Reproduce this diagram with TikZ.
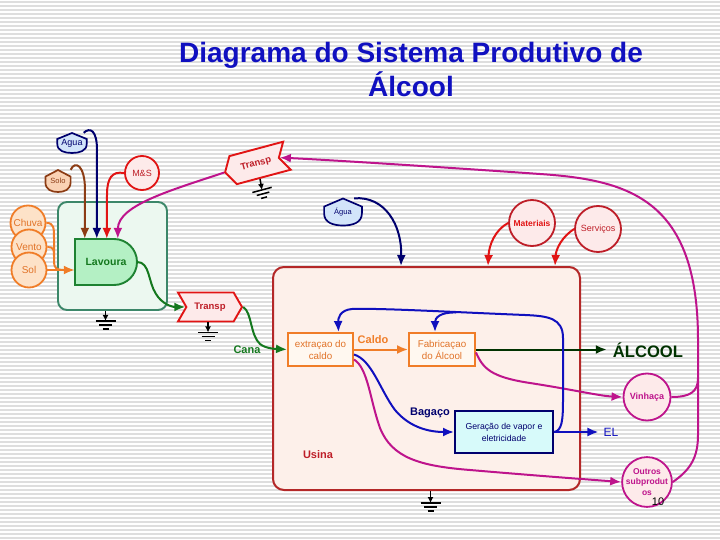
\documentclass[tikz,border=0pt]{standalone}
\usepackage{fontspec}
\setmainfont{Liberation Sans}
\usetikzlibrary{shapes.symbols,arrows.meta,calc}
\definecolor{titleblue}{RGB}{16,16,192}
\definecolor{navy}{RGB}{0,0,110}
\definecolor{fbblue}{RGB}{16,16,190}
\definecolor{redc}{RGB}{225,20,20}
\definecolor{darkred}{RGB}{190,30,40}
\definecolor{pinkfill}{RGB}{253,234,234}
\definecolor{mag}{RGB}{190,20,140}
\definecolor{orangec}{RGB}{240,125,40}
\definecolor{orangetxt}{RGB}{225,115,40}
\definecolor{orangefill}{RGB}{253,226,200}
\definecolor{brownc}{RGB}{140,60,20}
\definecolor{solofill}{RGB}{250,210,180}
\definecolor{greenc}{RGB}{20,120,30}
\definecolor{lavfill}{RGB}{180,240,196}
\definecolor{lavborder}{RGB}{30,130,50}
\definecolor{boxgreen}{RGB}{60,135,105}
\definecolor{boxgreenfill}{RGB}{236,248,240}
\definecolor{dkgreen}{RGB}{0,50,0}
\definecolor{usinafill}{RGB}{253,240,234}
\definecolor{usinaborder}{RGB}{180,40,40}
\definecolor{aguafill}{RGB}{210,228,250}
\definecolor{gerfill}{RGB}{215,250,250}
\definecolor{extfill}{RGB}{255,248,240}
\definecolor{stripe}{RGB}{222,222,222}
\newcommand\fsz[2]{\fontsize{#1}{#2}\selectfont}
\newcommand\shieldshape[5]{%
 \begin{scope}[shift={#1},xscale=#2,yscale=#3]
  \draw[draw=#4, fill=#5, line width=1.7pt] (0,-10) -- (14,-4) -- (14,1) .. controls (14,8) and (7,10) .. (0,10) .. controls (-7,10) and (-14,8) .. (-14,1) -- (-14,-4) -- cycle;
 \end{scope}}
\begin{document}
\begin{tikzpicture}[x=1pt,y=-1pt,
  conn/.style={line width=2pt},
  arr/.style={-{Latex[length=11pt,width=9pt]}},
  circ/.style={circle, draw, line width=1.8pt, inner sep=0pt, minimum size=#1},
  gstem/.style={line width=1.5pt, -{Latex[length=6pt,width=6pt]}},
  gnd/.pic={\draw[line width=1.5pt] (-10,0) -- (10,0) (-6.5,4) -- (6.5,4) (-3,8) -- (3,8);},
  chev/.style={signal, draw=redc, fill=pinkfill, line width=1.9pt, signal pointer angle=120,
    minimum width=64pt, minimum height=29pt, inner sep=0pt, text=darkred, font=\bfseries\fsz{9.5}{11}},
  procbox/.style={draw, line width=1.9pt, inner sep=0pt, align=center},
  lbl/.style={inner sep=0pt}
]
\useasboundingbox (0,0) rectangle (720,540);
\fill[white] (0,0) rectangle (720,540);
\foreach \k in {0,...,134} \draw[stripe, line width=1.3pt] (0,{\k*4+2}) -- (720,{\k*4+2});

% title
\node[lbl, align=center, text=titleblue, font=\bfseries\fsz{28}{34}] (title) at (411,69) {Diagrama do Sistema Produtivo de\\Álcool};

% green system box
\node[draw=boxgreen, fill=boxgreenfill, line width=1.9pt, rounded corners=9pt, minimum width=109pt, minimum height=108pt, inner sep=0pt] (lavbox) at (112.5,256) {};

% Lavoura D shape
\path[draw=lavborder, fill=lavfill, line width=1.9pt] (75,239) -- (114,239) arc[start angle=-90, end angle=90, radius=23] -- (75,285) -- cycle;
\node[lbl, minimum width=62pt, minimum height=46pt, text=greenc, font=\bfseries\fsz{10.5}{12}] (lav) at (106,262) {Lavoura};

% sources left
\node[circ=35pt, draw=orangec, fill=orangefill, text=orangetxt, font=\fsz{10}{12}] (chuva) at (28,223) {Chuva};
\node[circ=35pt, draw=orangec, fill=orangefill, text=orangetxt, font=\fsz{10}{12}] (vento) at (29,247) {Vento};
\node[circ=35pt, draw=orangec, fill=orangefill, text=orangetxt, font=\fsz{10}{12}] (sol) at (29,270) {Sol};

\shieldshape{(58,181)}{0.9}{1.1}{brownc}{solofill}
\node[lbl, minimum width=25pt, minimum height=22pt, text=brownc, font=\fsz{7.5}{9}] (solo) at (58,181) {Solo};
\shieldshape{(72,143)}{1.05}{1.0}{navy}{aguafill}
\node[lbl, minimum width=29pt, minimum height=20pt, text=navy, font=\fsz{9}{10}] (agua1) at (72,143) {Agua};
\node[circ=34pt, draw=redc, fill=pinkfill, text=darkred, font=\fsz{9}{11}] (ms) at (142,173) {M\&S};

% transports
\node[chev, signal to=east, signal from=west] (tr1) at (210,307) {Transp};
\node[chev, signal to=west, signal from=east, rotate=15] (tr2) at (256,164) {Transp};

% second agua, materials, services
\shieldshape{(343,212)}{1.35}{1.35}{navy}{aguafill}
\node[lbl, minimum width=38pt, minimum height=27pt, text=navy, font=\fsz{7.5}{9}] (agua2) at (343,212) {Água};
\node[circ=46pt, draw=darkred, fill=pinkfill, text=redc, font=\bfseries\fsz{8.5}{10}] (mat) at (532,223) {Materiais};
\node[circ=46pt, draw=darkred, fill=pinkfill, text=darkred, font=\fsz{9}{10}] (serv) at (598,229) {Serviços};

% usina
\node[draw=usinaborder, fill=usinafill, line width=2pt, rounded corners=11pt, minimum width=307pt, minimum height=223pt, inner sep=0pt] (usina) at (426.5,378.5) {};
\node[lbl, text=darkred, font=\bfseries\fsz{11}{13}] (usl) at (318,455) {Usina};

\node[procbox, draw=orangec, fill=extfill, text=orangetxt, font=\fsz{9.8}{12}, minimum width=65pt, minimum height=33pt] (ext) at (320.5,349.5) {extraçao do\\caldo};
\node[procbox, draw=orangec, fill=extfill, text=orangetxt, font=\fsz{9.8}{12}, minimum width=66pt, minimum height=33pt] (fab) at (442,349.5) {Fabricaçao\\do Álcool};
\node[procbox, draw=navy, fill=gerfill, text=navy, font=\fsz{8.7}{12}, line width=2pt, minimum width=98pt, minimum height=42pt] (ger) at (504,432) {Geração de vapor e\\eletricidade};

\node[lbl, text=orangec, font=\bfseries\fsz{11}{13}] (caldo) at (373,340) {Caldo};
\node[lbl, text=navy, font=\bfseries\fsz{11}{13}] (bag) at (430,413) {Bagaço};
\node[lbl, text=greenc, font=\bfseries\fsz{11}{13}] (cana) at (247,350) {Cana};
\node[lbl, text=dkgreen, font=\bfseries\fsz{16.6}{18}] (alc) at (648,350) {ÁLCOOL};
\node[lbl, text=fbblue, font=\fsz{12}{14}] (el) at (611,432) {EL};

% outputs
\node[circ=47pt, draw=mag, fill=pinkfill, text=mag, font=\bfseries\fsz{9}{10}] (vinh) at (647,397) {Vinhaça};
\node[circ=47pt, draw=mag, fill=pinkfill, text=mag, font=\bfseries\fsz{8.5}{10.5}, align=center] (outros) at (647,482) {Outros\\subprodut\\os};
\node[lbl, font=\fsz{11}{13}] (pgno) at (658,502) {10};

% connectors: lavoura inputs
\draw[conn, orangec] (chuva.east) .. controls (54,223) and (54,228) .. (54,238) -- (54,262) .. controls (54,268) and (57,270) .. (63,270);
\draw[conn, orangec] (vento.east) .. controls (54,247) and (54,250) .. (54,256);
\draw[conn, orangec, arr] (sol.east) -- (sol.east -| lav.west);
\draw[conn, brownc, arr] (solo.north east) .. controls (75,160) and (85,165) .. (85,190) -- ($(lav.north west)+(10,0)$);
\draw[conn, navy, arr] ([xshift=-3pt]agua1.north east) .. controls (90,127) and (97,130) .. (97,150) -- ($(lav.north west)+(22,0)$);
\draw[conn, redc, arr] (ms.west) .. controls (112,171) and (107,178) .. (107,195) -- ($(lav.north west)+(32,0)$);
\draw[conn, mag, arr] (tr2.west) .. controls (172,190) and (118,205) .. ($(lav.north west)+(43,0)$);

% cane flow
\draw[conn, greenc, arr] (lav.east) .. controls (150,262) and (148,282) .. (156,294) .. controls (162,304) and (172,307) .. (tr1.west);
\draw[conn, greenc, arr] (tr1.east) .. controls (252,312) and (250,335) .. (260,344) .. controls (266,349) and (278,349) .. (ext.west);

% usina inputs
\draw[conn, navy, arr] ([xshift=-8pt]agua2.north east) .. controls (385,196) and (402,225) .. ($(usina.north west)+(129,0)$);
\draw[conn, redc, arr] (mat.west) .. controls (495,230) and (489,245) .. ($(usina.north west)+(216,0)$);
\draw[conn, redc, arr] (serv.west) .. controls (563,236) and (556,248) .. ($(usina.north west)+(283,0)$);

% inside usina
\draw[conn, orangec, arr] (ext.east) -- (fab.west);
\draw[conn, dkgreen, arr] (fab.east) -- ([xshift=-6pt]fab.east -| alc.west);
\draw[conn, fbblue, arr] (ger.east) -- ([xshift=-5pt]ger.east -| el.west);
\draw[conn, mag, arr] ([yshift=-3pt]fab.east) .. controls (483,368) and (490,377) .. (530,383) .. controls (575,390) and (600,396) .. (vinh.west);
\draw[conn, mag, arr] ([yshift=-10pt]ext.east) .. controls (368,368) and (370,400) .. (380,428) .. controls (392,458) and (420,466) .. (470,470) .. controls (540,476) and (595,480) .. (outros.west);
\draw[conn, fbblue, arr] ([yshift=-5pt]ext.east) .. controls (372,360) and (380,390) .. (395,410) .. controls (410,428) and (430,432) .. (ger.west);
\draw[conn, fbblue, arr] (ger.east) .. controls (562,431) and (563,420) .. (563,400) -- (563,338) .. controls (563,318) and (548,316) .. (525,315) .. controls (450,312) and (380,308) .. (352,309) .. controls (340,310) and (338,318) .. ($(ext.north)+(18,0)$);
\coordinate (fbj) at (456,312.5);
\draw[conn, fbblue, arr] (fbj) .. controls (440,312) and (435,318) .. ($(fab.north)+(-7,0)$);

% by-products back to transport
\draw[conn, mag, arr] (outros.east) .. controls (690,470) and (698,458) .. (698,435) -- (698,340) .. controls (698,200) and (630,180) .. (540,174) .. controls (440,167) and (330,160) .. (tr2.east);
\draw[conn, mag] (vinh.east) .. controls (690,397) and (698,392) .. (698,378);

% grounds
\draw[gstem] ($(lavbox.south)+(-7,0)$) -- ++(0,10) coordinate (g1);
\pic at (g1) {gnd};
\draw[gstem] ([xshift=-2pt]tr1.south) -- ++(0,10) coordinate (g2);
\pic at (g2) {gnd};
\draw[gstem] ($(usina.south)+(4,0)$) -- ++(0,12) coordinate (g3);
\pic at (g3) {gnd};
\draw[gstem] (tr2.south) -- ++(2,11) coordinate (g4);
\pic[rotate=15] at (g4) {gnd};
\end{tikzpicture}
\end{document}
